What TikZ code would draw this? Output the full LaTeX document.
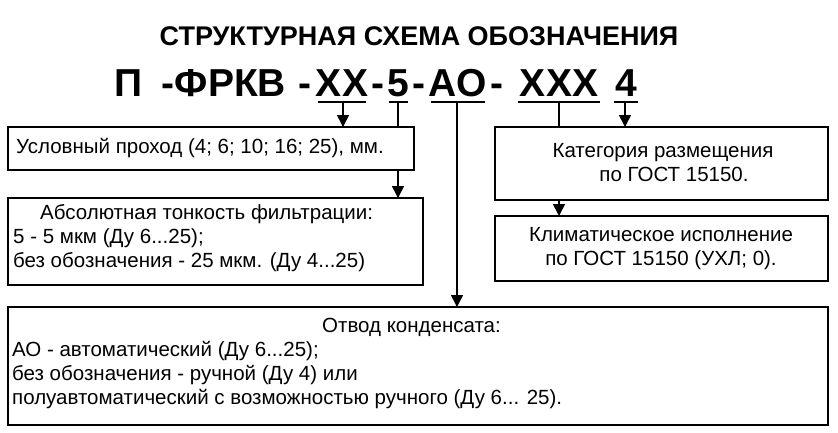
\documentclass[tikz,border=0pt]{standalone}
\usepackage{fontspec}
\setmainfont{Liberation Sans}
\usetikzlibrary{arrows.meta}
\begin{document}
\begin{tikzpicture}[x=1pt,y=-1pt,
  bx/.style={draw,line width=1.6pt,inner sep=0pt},
  ln/.style={line width=1.6pt},
  ar/.style={line width=1.6pt,-{Triangle[length=12pt,width=12pt]}},
  code/.style={font=\fontsize{39}{40}\bfseries\selectfont,inner sep=0pt,anchor=base},
  txt/.style={font=\fontsize{20.5}{24}\selectfont,inner sep=0pt}]
\useasboundingbox (0,0) rectangle (838,432);
\node[font=\fontsize{27}{30}\bfseries\selectfont] (title) at (419,36) {СТРУКТУРНАЯ СХЕМА ОБОЗНАЧЕНИЯ};
\node[code] (p) at (129,96) {П};
\node[code] (f) at (224,96) {-ФРКВ};
\node[code] (d1) at (305,96) {-};
\node[code] (xx) at (342,96) {XX};
\node[code] (d2) at (378,96) {-};
\node[code] (five) at (398,96) {5};
\node[code] (d3) at (419,96) {-};
\node[code] (ao) at (458,96) {AO};
\node[code] (d4) at (497,96) {-};
\node[code] (xxx) at (559,96) {XXX};
\node[code] (four) at (626,96) {4};
\foreach \a/\b in {318/366,389/408,431/485,518/600,614/638} \draw[ln] (\a,102) -- (\b,102);
% boxes
\draw[bx] (8,127) rectangle (414,170);
\node[txt,anchor=west] (b1) at (16,148) {Условный проход (4; 6; 10; 16; 25), мм.};
\draw[bx] (8,198) rectangle (423,285);
\node[txt,anchor=north west,align=left] (b2) at (13,204) {\hspace*{27pt}Абсолютная тонкость фильтрации:\\5 - 5 мкм (Ду 6...25);\\без обозначения - 25 мкм. (Ду 4...25)};
\draw[bx] (8,307) rectangle (828,425);
\node[txt,anchor=north west,align=left] (b3) at (12,318) {\hspace*{310pt}Отвод конденсата:\\АО - автоматический (Ду 6...25);\\без обозначения - ручной (Ду 4) или\\полуавтоматический с возможностью ручного (Ду 6... 25).};
\draw[bx] (495,127) rectangle (828,200);
\node[txt,align=center] (b4) at (663,163) {Категория размещения\\\hspace*{22pt}по ГОСТ 15150.};
\draw[bx] (495,216) rectangle (828,281);
\node[txt,align=center] (b5) at (661,249) {Климатическое исполнение\\по ГОСТ 15150 (УХЛ; 0).};
% connectors
\draw[ar] (343,103) -- (343,127);
\draw[ln] (398,103) -- (398,127);
\draw[ar] (398,170) -- (398,198);
\draw[ar] (457,103) -- (457,307);
\draw[ln] (559,103) -- (559,127);
\draw[ar] (625,103) -- (625,127);
\draw[ar] (559,200) -- (559,216);
\end{tikzpicture}
\end{document}
